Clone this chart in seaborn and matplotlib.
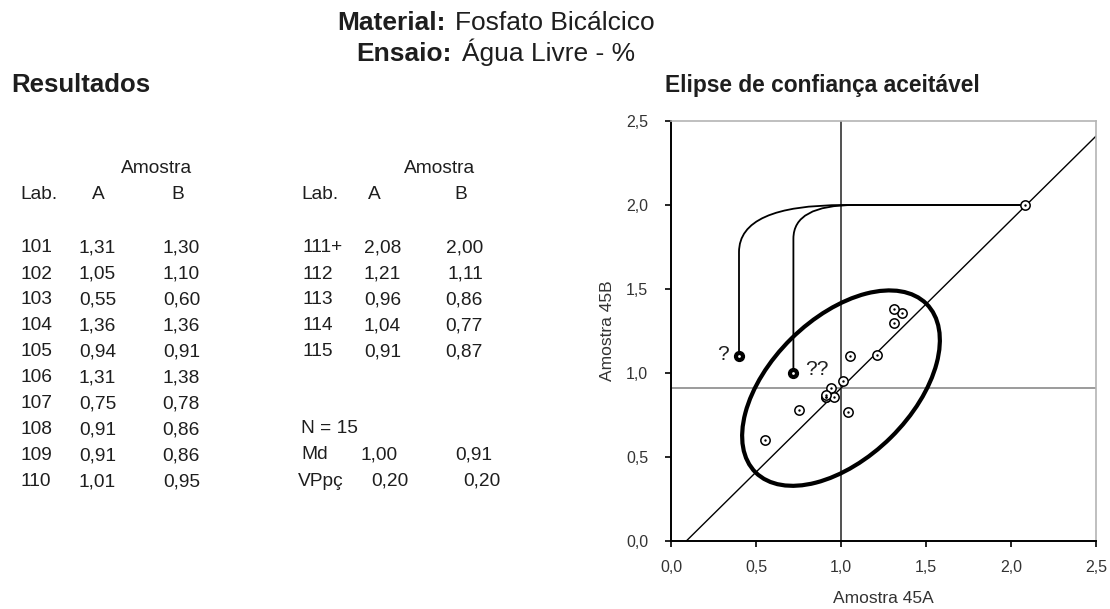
import matplotlib
matplotlib.use("Agg")
import matplotlib.pyplot as plt
import seaborn as sns
from matplotlib.patches import Ellipse, PathPatch
from matplotlib.path import Path

# dados do ensaio (Agua Livre - %)
labs = ["101", "102", "103", "104", "105", "106", "107", "108", "109", "110",
        "111+", "112", "113", "114", "115"]
amostra_a = [1.31, 1.05, 0.55, 1.36, 0.94, 1.31, 0.75, 0.91, 0.91, 1.01,
             2.08, 1.21, 0.96, 1.04, 0.91]
amostra_b = [1.30, 1.10, 0.60, 1.36, 0.91, 1.38, 0.78, 0.86, 0.86, 0.95,
             2.00, 1.11, 0.86, 0.77, 0.87]

n_labs = 15
mediana = [1.00, 0.91]
vp = [0.20, 0.20]

# pontos duvidosos ligados ao lab 111
duvida_a = [0.40, 0.72]
duvida_b = [1.10, 1.00]
duvida_txt = ["?", "??"]

# elipse de confianca (semi-eixos e angulo)
elipse_semi = [0.71, 0.415]
elipse_ang = 45

ticks = [0.0, 0.5, 1.0, 1.5, 2.0, 2.5]
tick_txt = ["0,0", "0,5", "1,0", "1,5", "2,0", "2,5"]


def br(v):
    return f"{v:.2f}".replace(".", ",")


sns.set_theme(style="white")
plt.rcParams["font.family"] = ["Liberation Sans", "DejaVu Sans"]

W, H = 1110, 609
fig = plt.figure(figsize=(W / 100, H / 100), dpi=100)


def ftext(x, y, s, **kw):
    # posicao em pixels da imagem
    kw.setdefault("va", "baseline")
    kw.setdefault("color", "#1e1e1e")
    fig.text(x / W, 1 - y / H, s, **kw)


# cabecalho
ftext(446, 30, "Material:", ha="right", fontsize=19, fontweight="bold")
ftext(455, 30, "Fosfato Bicálcico", ha="left", fontsize=19)
ftext(452, 61, "Ensaio:", ha="right", fontsize=19, fontweight="bold")
ftext(462, 61, "Água Livre - %", ha="left", fontsize=19)
ftext(11, 92, "Resultados", fontsize=18.5, fontweight="bold")

# tabela
fs = 13.8
ftext(157, 173, "Amostra", ha="center", fontsize=fs)
ftext(440, 173, "Amostra", ha="center", fontsize=fs)
ftext(20, 199, "Lab.", fontsize=fs)
ftext(98, 199, "A", ha="center", fontsize=fs)
ftext(178, 199, "B", ha="center", fontsize=fs)
ftext(301, 199, "Lab.", fontsize=fs)
ftext(374, 199, "A", ha="center", fontsize=fs)
ftext(461, 199, "B", ha="center", fontsize=fs)

for i in range(len(labs)):
    if i < 10:
        x0, xa, xb, row = 21, 116, 200, i
    else:
        x0, xa, xb, row = 302, 401, 483, i - 10
    y = 252.5 + 26.0 * row
    ftext(x0, y, labs[i], fontsize=fs)
    ftext(xa, y, br(amostra_a[i]), ha="right", fontsize=fs)
    ftext(xb, y, br(amostra_b[i]), ha="right", fontsize=fs)

ftext(301, 433, f"N = {n_labs}", fontsize=fs)
ftext(301, 459, "Md", fontsize=fs)
ftext(398, 459, br(mediana[0]), ha="right", fontsize=fs)
ftext(492, 459, br(mediana[1]), ha="right", fontsize=fs)
ftext(298, 486, "VPpç", fontsize=fs)
ftext(408, 486, br(vp[0]), ha="right", fontsize=fs)
ftext(500, 486, br(vp[1]), ha="right", fontsize=fs)

# grafico
ax = fig.add_axes([671 / W, 1 - 541 / H, (1096 - 671) / W, (541 - 121) / H])
ax.set_xlim(0, 2.5)
ax.set_ylim(0, 2.5)

ax.axvline(mediana[0], color="#333333", lw=1.2, zorder=1)
ax.axhline(mediana[1], color="#8a8a8a", lw=1.2, zorder=1)
ax.axline((mediana[0], mediana[1]), slope=1, color="black", lw=1.0, zorder=1)

ax.add_patch(Ellipse((mediana[0], mediana[1]), 2 * elipse_semi[0], 2 * elipse_semi[1],
                     angle=elipse_ang, fill=False, edgecolor="black", lw=3, zorder=2))

# ligacoes dos pontos duvidosos ao lab 111
forma = [(0.28, 0.62), (0.2, 0.36)]
xt, yt = amostra_a[10], amostra_b[10]
for (xa, yb), (dv, dh) in zip(zip(duvida_a, duvida_b), forma):
    verts = [(xa, yb), (xa, yt - dv), (xa, yt), (xa + dh, yt), (xt, yt)]
    codes = [Path.MOVETO, Path.LINETO, Path.CURVE3, Path.CURVE3, Path.LINETO]
    ax.add_patch(PathPatch(Path(verts, codes), fill=False, edgecolor="black", lw=1.3, zorder=3))

sns.scatterplot(x=amostra_a, y=amostra_b, ax=ax, marker="o", s=45, color="white",
                edgecolor="black", linewidth=1.1, zorder=5)
sns.scatterplot(x=amostra_a, y=amostra_b, ax=ax, marker="o", s=3, color="black",
                edgecolor="black", linewidth=0, zorder=6)
sns.scatterplot(x=duvida_a, y=duvida_b, ax=ax, marker="o", s=50, color="black",
                edgecolor="black", linewidth=1, zorder=5)
sns.scatterplot(x=duvida_a, y=duvida_b, ax=ax, marker="o", s=4, color="white",
                edgecolor="white", linewidth=0, zorder=6)

ax.text(duvida_a[0] - 0.06, duvida_b[0] + 0.01, duvida_txt[0], ha="right", va="center",
        fontsize=15, color="#222222")
ax.text(duvida_a[1] + 0.07, duvida_b[1] + 0.02, duvida_txt[1], ha="left", va="center",
        fontsize=15, color="#222222")

ax.set_xticks(ticks)
ax.set_xticklabels(tick_txt, fontsize=11.5)
ax.set_yticks(ticks)
ax.set_yticklabels(tick_txt, fontsize=11.5)
ax.tick_params(axis="both", direction="out", length=4.5, width=1.2, color="black",
               labelcolor="#333333", bottom=True, left=True)
ax.tick_params(axis="x", pad=9)
ax.tick_params(axis="y", pad=12)

for s in ["left", "bottom"]:
    ax.spines[s].set_color("black")
    ax.spines[s].set_linewidth(1.4)
for s in ["top", "right"]:
    ax.spines[s].set_color("#b4b4b4")
    ax.spines[s].set_linewidth(1.2)

ax.set_xlabel("Amostra 45A", fontsize=12.5, color="#333333", labelpad=12)
ax.set_ylabel("Amostra 45B", fontsize=12.5, color="#333333", labelpad=8)

ftext(665, 92, "Elipse de confiança aceitável", fontsize=16.4, fontweight="bold")

fig.savefig("out.png", dpi=100)
